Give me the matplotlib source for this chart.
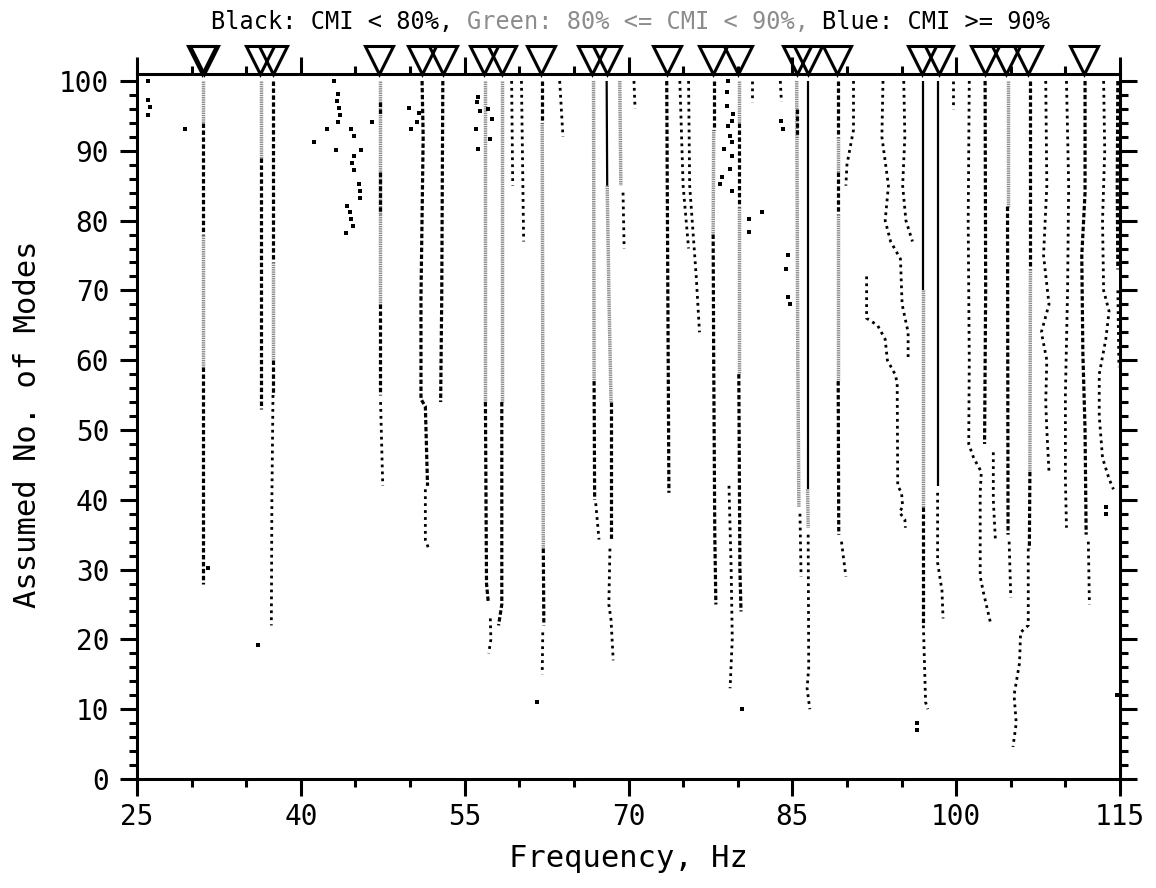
import matplotlib
matplotlib.use("Agg")
import matplotlib.pyplot as plt
import matplotlib.transforms as mtransforms
import numpy as np

plt.rcParams["font.family"] = ["DejaVu Sans Mono"]
plt.rcParams["lines.scale_dashes"] = False

# identified modes (triangles on the top axis), Hz
mode_freqs = [30.95, 31.1, 36.3, 37.45, 47.2, 51.1, 53.0, 56.8, 58.4, 62.0, 66.7, 68.0,
              73.5, 77.7, 80.0, 85.4, 86.4, 89.1, 96.9, 98.4, 102.6, 104.6, 106.6, 111.7]

# pole tracks: (frequencies [Hz], assumed no. of modes)
blue_tracks = [
    ([68.0, 68.05], [100, 85]),
    ([86.4, 86.4], [100, 41.5]),
    ([97.0, 97.0], [100, 70]),
    ([98.35, 98.35], [100, 42]),
]

green_tracks = [
    ([31.05, 31.05], [100, 94]),
    ([31.05, 31.05], [78, 59]),
    ([36.35, 36.35], [100, 89]),
    ([37.45, 37.45], [74, 60]),
    ([47.25, 47.25], [100, 68]),
    ([56.9, 56.9], [100, 54]),
    ([58.4, 58.4], [100, 54]),
    ([62.1, 62.15, 62.2], [94, 60, 33]),
    ([66.8, 66.85], [100, 57]),
    ([68.05, 68.2, 68.4], [85, 70, 54]),
    ([69.2, 69.3], [100, 85]),
    ([77.8, 77.75], [93, 78]),
    ([80.1, 80.1], [100, 94]),
    ([80.1, 80.1], [82, 58]),
    ([85.4, 85.5, 85.6], [100, 60, 39]),
    ([86.4, 86.45], [41.5, 36]),
    ([89.2, 89.2], [92, 87]),
    ([89.2, 89.2], [81, 57]),
    ([97.0, 97.0], [70, 39]),
    ([104.7, 104.7], [100, 82]),
    ([106.8, 106.75], [73, 44]),
]

black_tracks = [
    ([31.05, 31.05], [94, 78]),
    ([31.05, 31.05], [59, 28]),
    ([36.35, 36.35], [89, 53]),
    ([37.45, 37.45], [100, 74]),
    ([37.45, 37.45], [60, 55]),
    ([47.25, 47.25], [97, 95]),
    ([47.25, 47.25], [87, 81]),
    ([47.25, 47.25], [68, 55]),
    ([51.1, 51.2, 51.0, 51.0, 51.4, 51.6], [100, 92, 69, 54.4, 53.4, 42]),
    ([53.0, 52.9, 52.8], [100, 69, 54]),
    ([56.9, 57.0, 57.15], [54, 28, 25.5]),
    ([58.4, 58.4, 58.1], [54, 25, 22]),
    ([62.1, 62.1], [100, 94]),
    ([62.2, 62.25], [33, 22]),
    ([66.85, 66.9], [57, 40]),
    ([68.4, 68.4], [54, 34.3]),
    ([73.5, 73.6, 73.7], [100, 70, 41]),
    ([77.8, 77.8], [100, 93]),
    ([77.75, 77.8, 77.9, 78.0], [78, 60, 35, 25]),
    ([80.1, 80.1], [94, 82]),
    ([80.1, 80.2, 80.3], [58, 30, 24]),
    ([85.4, 85.4], [96, 92]),
    ([89.2, 89.2], [100, 92]),
    ([89.2, 89.2], [87, 81]),
    ([89.2, 89.25], [57, 35]),
    ([97.0, 97.0], [39, 22]),
    ([102.65, 102.7, 102.6], [100, 70, 48]),
    ([104.7, 104.75], [82, 35]),
    ([106.8, 106.8], [100, 73]),
    ([106.75, 106.7], [44, 33]),
    ([111.8, 111.8, 111.5, 111.6, 111.8, 111.9], [100, 84, 75, 61, 50, 35]),
    ([114.8, 114.75, 114.8], [100, 85, 73]),
]

dot_tracks = [
    ([37.45, 37.35, 37.3], [55, 40, 22]),
    ([47.3, 47.5], [54, 42]),
    ([51.4, 51.4, 51.7], [41.5, 34.3, 33]),
    ([57.35, 57.4, 57.2], [23, 20, 18]),
    ([59.3, 59.4], [100, 85]),
    ([60.2, 60.4], [100, 77]),
    ([62.15, 62.1], [21, 15]),
    ([63.7, 64.0], [100, 92]),
    ([67.0, 67.3], [39.5, 34.3]),
    ([68.3, 68.2, 68.4, 68.6], [33, 25, 22.8, 17]),
    ([69.5, 69.6], [84, 76]),
    ([70.5, 70.6], [100, 96]),
    ([74.7, 75.0, 75.5], [100, 85, 76]),
    ([75.5, 75.6, 76.2, 76.5], [100, 85, 72, 64]),
    ([79.2, 79.4, 79.5, 79.3], [42, 30, 20, 13]),
    ([81.3, 81.3], [100, 97]),
    ([83.9, 84.0], [100, 97]),
    ([85.7, 85.8], [38, 29]),
    ([86.45, 86.5, 86.35, 86.6], [35, 16, 13, 10]),
    ([89.5, 89.9], [34, 29]),
    ([90.6, 90.6, 90.0, 89.9], [100, 93, 88, 85]),
    ([93.3, 93.2, 93.8, 93.5, 94.0, 94.9, 95.05, 95.6, 95.6], [100, 92, 85, 80, 77, 74.5, 68, 64, 60]),
    ([95.2, 95.3, 95.1, 95.4, 96.0], [100, 92, 85, 80, 77]),
    ([91.8, 91.8, 92.8, 93.5, 93.7, 94.4, 94.6, 94.65, 95.0, 95.1, 94.8, 95.3, 95.35],
     [72, 66, 65, 63, 60, 58, 56.8, 42, 41, 39, 38.2, 37.2, 36]),
    ([97.0, 97.2, 97.4], [22, 11, 10]),
    ([98.3, 98.3, 98.7, 98.8], [41, 31, 27, 23]),
    ([99.7, 99.7], [100, 96]),
    ([101.2, 101.1, 101.2, 101.15, 101.6, 102.3, 102.2, 102.2, 102.5, 103.2],
     [100, 80, 60, 48, 46, 44, 41, 29, 26.7, 22]),
    ([103.4, 103.4, 103.6], [46.8, 40, 34]),
    ([104.85, 105.0], [34, 26]),
    ([106.6, 106.6, 105.9, 105.8, 105.3, 105.5, 105.2], [33, 22, 21, 16.6, 12, 8, 4.6]),
    ([108.2, 108.3, 108.0, 108.5, 107.8, 108.3, 108.2, 108.3, 108.5], [100, 85, 75, 68, 64, 60, 54, 50, 44]),
    ([110.1, 110.3, 110.2, 110.0, 110.0, 110.1], [100, 85, 70, 55, 43, 36]),
    ([112.1, 112.2], [34, 25]),
    ([113.5, 113.6, 113.4, 113.5, 114.0, 113.7, 113.1, 113.1, 113.4, 114.0, 114.4],
     [100, 90, 80, 70, 67, 63, 58, 52, 46, 43, 41.5]),
    ([114.8, 114.9], [70, 59]),
]

# isolated poles
scatter_f = [26.0, 26.0, 26.2, 26.0, 29.4, 31.5, 36.1,
             43.0, 43.4, 43.3, 43.5, 43.6, 43.4, 42.4, 44.6, 44.9, 43.2, 45.5, 44.9, 44.7, 44.9,
             45.3, 45.4, 45.4, 44.2, 44.5, 44.6, 44.8, 44.1, 41.2, 46.5, 49.9, 50.1, 50.6, 50.8,
             56.2, 56.1, 56.4, 57.1, 56.0, 57.3, 56.2, 57.5, 61.6,
             79.1, 79.0, 79.0, 79.6, 79.5, 79.1, 79.3, 79.5, 78.7, 79.5, 79.3, 78.6, 78.4, 79.5,
             80.4, 82.2, 81.0, 81.0, 84.0, 84.1, 84.6, 84.4, 84.6, 84.8,
             96.45, 96.45, 113.7, 113.7, 114.7]
scatter_n = [100, 97.3, 96.3, 95.1, 93.1, 30.3, 19.2,
             100, 98.1, 97.1, 96.1, 95.1, 94.1, 93.1, 93.1, 92.1, 90.1, 90.1, 89.2, 88.2, 87.2,
             85.2, 84.2, 83.2, 82.1, 81.2, 80.2, 79.2, 78.2, 91.2, 94.1, 96.1, 93.1, 94.1, 95.4,
             97.7, 97.0, 95.7, 96.0, 93.1, 91.7, 90.2, 94.5, 11,
             100, 98.4, 96.4, 95.3, 94.3, 93.5, 92.1, 91.2, 90.2, 89.2, 87.4, 86.2, 85.2, 84.2,
             10, 81.2, 80.2, 78.3, 94.3, 93.1, 75, 73, 69, 68,
             8, 7, 39, 38, 12]

GRAY = "#8c8c8c"

fig = plt.figure(figsize=(11.56, 8.88), dpi=100)
ax = fig.add_axes([137 / 1156, 109 / 888, 983 / 1156, 705 / 888])

for f, n in green_tracks:
    ax.plot(f, n, color=GRAY, lw=2.5, ls=(0, (1.0, 0.6)), dash_capstyle="butt")
for f, n in blue_tracks:
    ax.plot(f, n, color="black", lw=1.6, solid_capstyle="butt")
for f, n in black_tracks:
    ax.plot(f, n, color="black", lw=2.3, ls=(0, (3.2, 1.8)), dash_capstyle="butt")
for f, n in dot_tracks:
    ax.plot(f, n, color="black", lw=2.0, ls=(0, (2.0, 3.0)), dash_capstyle="butt")
ax.plot(scatter_f, scatter_n, "s", ms=2.3, color="black", mew=0)

# open triangles with their apex on the top axis line
tri_trans = mtransforms.offset_copy(ax.transData, fig=fig, x=0, y=10, units="points")
ax.plot(mode_freqs, [101] * len(mode_freqs), "v", ms=20, mfc="none", mec="black",
        mew=2.2, transform=tri_trans, clip_on=False, zorder=5)

ax.set_xlim(25, 115)
ax.set_ylim(0, 101)
ax.set_xticks(np.arange(25, 116, 15))
ax.set_xticks(np.arange(25, 116, 5), minor=True)
ax.set_yticks(np.arange(0, 101, 10))
ax.set_yticks(np.arange(0, 101, 2), minor=True)
ax.tick_params(which="both", direction="out", top=True, right=True,
               labeltop=False, labelright=False, width=2.2, labelsize=20)
ax.tick_params(which="major", length=12)
ax.tick_params(which="minor", length=6)
ax.tick_params(axis="y", which="major", pad=8)
ax.tick_params(axis="x", which="major", pad=5)
for s in ax.spines.values():
    s.set_linewidth(2.2)

fig.text(628 / 1156, 1 - 858 / 888, "Frequency, Hz", ha="center", va="center", fontsize=22)
fig.text(28 / 1156, 1 - 424 / 888, "Assumed No. of Modes", ha="center", va="center",
         rotation=90, fontsize=22)

# title in three colours, laid out by monospace character width
title_parts = [("Black: CMI < 80%, ", "black"),
               ("Green: 80% <= CMI < 90%, ", GRAY),
               ("Blue: CMI >= 90%", "black")]
fs = 17
char_px = 0.6021 * fs * 100 / 72
total = sum(len(t) for t, _ in title_parts) * char_px
x0 = 630 - total / 2
for text, col in title_parts:
    fig.text(x0 / 1156, 1 - 22 / 888, text, ha="left", va="center", fontsize=fs, color=col)
    x0 += len(text) * char_px

fig.savefig("out.png", dpi=100)
